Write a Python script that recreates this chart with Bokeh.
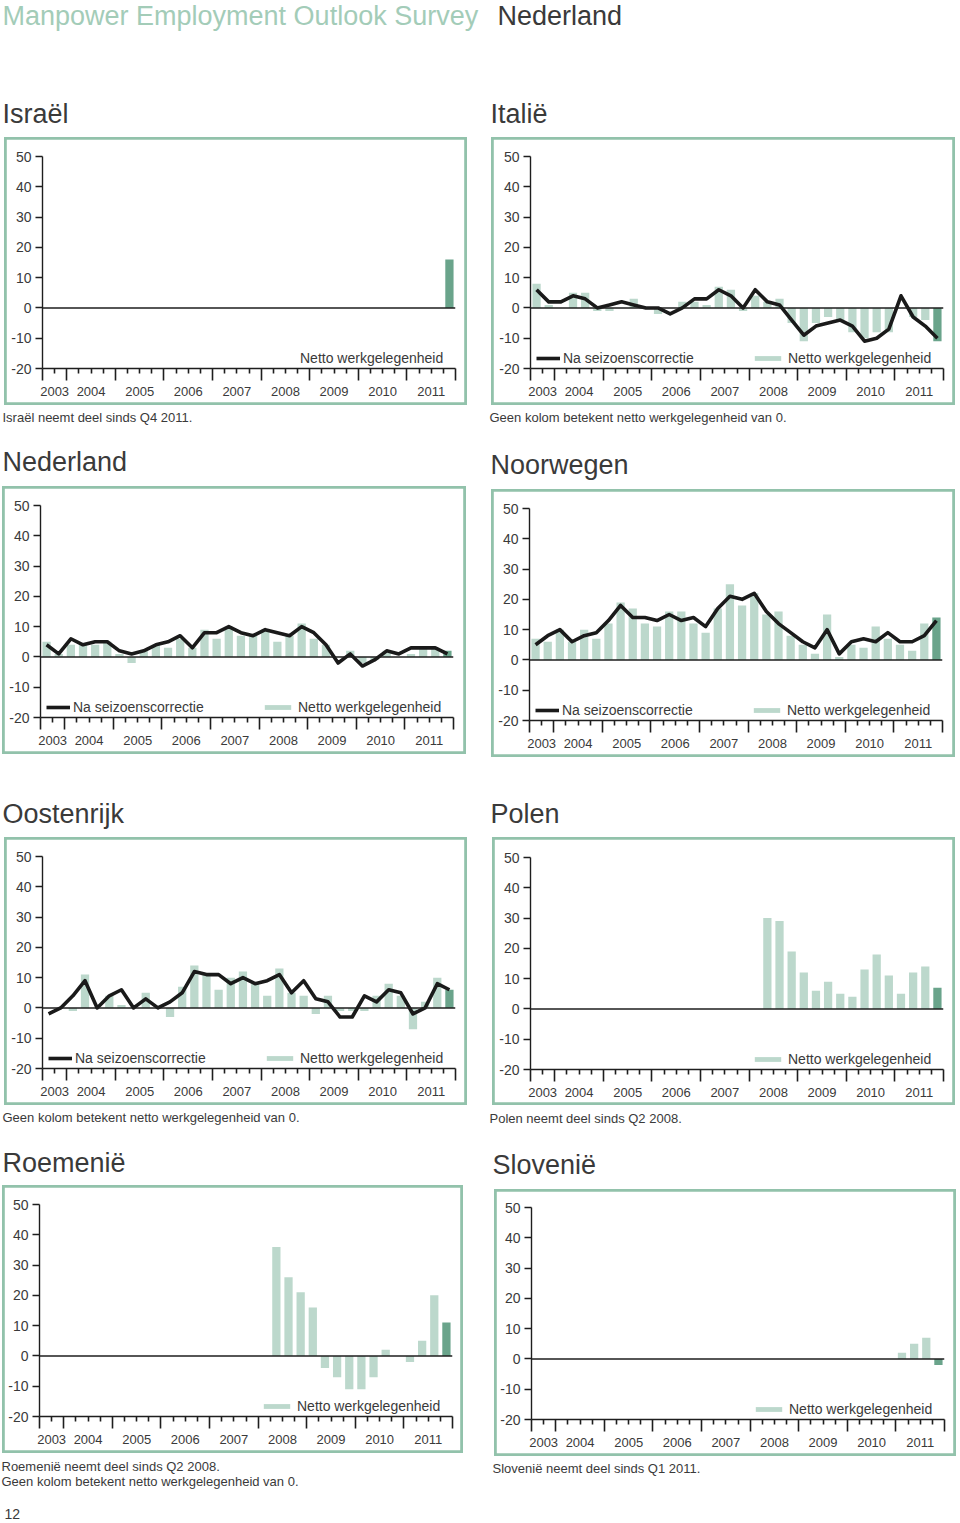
from bokeh.plotting import figure
from bokeh.models import (Range1d, FixedTicker, LinearAxis, Span, Label,
                          Legend, LegendItem)
from bokeh.layouts import column, row
from bokeh.embed import file_html
from bokeh.resources import INLINE

# ---------------- data ----------------
QUARTERS = ["Q3 2003", "Q4 2003",
            "Q1 2004", "Q2 2004", "Q3 2004", "Q4 2004",
            "Q1 2005", "Q2 2005", "Q3 2005", "Q4 2005",
            "Q1 2006", "Q2 2006", "Q3 2006", "Q4 2006",
            "Q1 2007", "Q2 2007", "Q3 2007", "Q4 2007",
            "Q1 2008", "Q2 2008", "Q3 2008", "Q4 2008",
            "Q1 2009", "Q2 2009", "Q3 2009", "Q4 2009",
            "Q1 2010", "Q2 2010", "Q3 2010", "Q4 2010",
            "Q1 2011", "Q2 2011", "Q3 2011", "Q4 2011"]
YEARS = ["2003", "2004", "2005", "2006", "2007", "2008", "2009", "2010", "2011"]
Y_TICKS = [-20, -10, 0, 10, 20, 30, 40, 50]
Y_TICK_LABELS = ["-20", "-10", "0", "10", "20", "30", "40", "50"]

ISRAEL_START = "Q4 2011"
ISRAEL_BARS = [16]

ITALIE_START = "Q3 2003"
ITALIE_BARS = [8, 1, 0, 5, 5, -1, -1, 0, 3, 0, -2, 0, 2, 2, 1, 7, 6, -1, 4, 2, 3, -5,
               -11, -5, -3, -4, -8, -10, -8, -8, 0, -3, -4, -11]
ITALIE_LINE = [6, 2, 2, 4, 3, 0, 1, 2, 1, 0, 0, -2, 0, 3, 3, 6, 4, 0, 6, 2, 1, -4,
               -9, -6, -5, -4, -6, -11, -10, -7, 4, -3, -6, -10]

NEDERLAND_START = "Q3 2003"
NEDERLAND_BARS = [5, 1, 4, 4, 4, 5, 1, -2, 2, 4, 3, 6, 3, 9, 6, 10, 7, 7, 9, 5, 7, 11,
                  6, 4, 0, 2, -2, -1, 2, 0, 1, 3, 3, 2]
NEDERLAND_LINE = [4, 1, 6, 4, 5, 5, 2, 1, 2, 4, 5, 7, 3, 8, 8, 10, 8, 7, 9, 8, 7, 10,
                  8, 4, -2, 1, -3, -1, 2, 1, 3, 3, 3, 1]

NOORWEGEN_START = "Q3 2003"
NOORWEGEN_BARS = [7, 6, 10, 6, 10, 7, 12, 19, 17, 12, 11, 16, 16, 12, 9, 17, 25, 18, 22,
                  15, 16, 8, 5, 2, 15, 1, 5, 4, 11, 7, 5, 3, 12, 14]
NOORWEGEN_LINE = [5, 8, 10, 6, 8, 9, 13, 18, 14, 14, 13, 15, 13, 14, 11, 17, 21, 20, 22,
                  16, 12, 9, 6, 4, 10, 2, 6, 7, 6, 9, 6, 6, 8, 13]

OOSTENRIJK_START = "Q3 2003"
OOSTENRIJK_BARS = [0, 0, -1, 11, 0, 4, 1, 0, 5, 0, -3, 7, 14, 11, 6, 10, 12, 8, 4, 13,
                   5, 4, -2, 4, -1, -1, -1, 4, 8, 4, -7, 2, 10, 6]
OOSTENRIJK_LINE = [-2, 0, 4, 9, 0, 4, 6, 0, 3, 0, 2, 5, 12, 11, 11, 8, 10, 8, 9, 11, 5,
                   9, 3, 2, -3, -3, 4, 2, 6, 5, -2, 0, 8, 6]

POLEN_START = "Q2 2008"
POLEN_BARS = [30, 29, 19, 12, 6, 9, 5, 4, 13, 18, 11, 5, 12, 14, 7]

ROEMENIE_START = "Q2 2008"
ROEMENIE_BARS = [36, 26, 21, 16, -4, -7, -11, -11, -7, 2, 0, -2, 5, 20, 11]

SLOVENIE_START = "Q1 2011"
SLOVENIE_BARS = [2, 5, 7, -2]

LINE_LABEL = "Na seizoenscorrectie"
BAR_LABEL = "Netto werkgelegenheid"
NOTE_ZERO = "Geen kolom betekent netto werkgelegenheid van 0."

# ---------------- style ----------------
FONT = "Liberation Sans"
TEXT = "#3a3a3a"
AXIS = "#1e1e1e"
FRAME = "#92c2ab"
BAR_LIGHT = "#bcd8cc"
BAR_DARK = "#6aa48b"
LINE = "#1a1a1a"
HEAD_GREEN = "#a3ccb8"

LW = 480      # left column width
RW = 478      # right column width
FW = 413      # frame width
FH = 212      # frame height

NQ = len(QUARTERS)
year_of = [q.split()[1] for q in QUARTERS]
BOUNDS = [i for i in range(NQ) if i == 0 or year_of[i] != year_of[i - 1]] + [NQ]
MINOR = [i for i in range(1, NQ) if i not in BOUNDS]
CENTERS = {}
for y in YEARS:
    idx = [i + 0.5 for i in range(NQ) if year_of[i] == y]
    CENTERS[sum(idx) / len(idx)] = y


def text_fig(w, h, texts):
    """A plain canvas holding texts; texts = (x, center_y_from_top, text, size, color)."""
    f = figure(width=w, height=h, x_range=Range1d(0, 1), y_range=Range1d(0, 1),
               output_backend="svg", toolbar_location=None, min_border=0,
               x_axis_location=None, y_axis_location=None, frame_align=False)
    f.grid.grid_line_color = None
    f.outline_line_color = None
    for (x, yc, t, size, color) in texts:
        f.add_layout(Label(x=x, y=h - yc, x_units="screen", y_units="screen", text=t,
                           text_font=FONT, text_font_size=size, text_color=color,
                           text_baseline="middle", text_align="left"))
    return f


def make_panel(name, bars, start, line, captions, W, H, bl, bt, box, title_y,
               title_x, cap_x, cap_ys, footer=None):
    x0, y0, x1, y1 = box
    cw, ch = x1 - x0, y1 - y0
    fl = bl - x0
    ft = bt - y0
    fr = cw - fl - FW
    fb = ch - ft - FH
    p = figure(width=cw, height=ch, x_range=Range1d(0, NQ), y_range=Range1d(-20, 50),
               output_backend="svg", toolbar_location=None,
               min_border_left=fl, min_border_right=fr, min_border_top=ft,
               min_border_bottom=fb, x_axis_location=None, y_axis_location=None,
               margin=(0, 0, 0, x0), frame_align=False,
               styles={"outline": "2.8px solid " + FRAME, "outline-offset": "-2.8px",
                       "box-shadow": "inset 0 0 0 2.8px " + FRAME,
                       "background-color": "white"})
    p.grid.grid_line_color = None
    p.outline_line_color = None
    p.border_fill_color = None
    p.background_fill_color = None

    yax = LinearAxis(ticker=FixedTicker(ticks=Y_TICKS, minor_ticks=[]),
                     major_label_overrides=dict(zip(Y_TICKS, Y_TICK_LABELS)),
                     axis_line_color=AXIS, axis_line_width=1.4,
                     major_tick_line_color=AXIS, major_tick_line_width=1.4,
                     major_tick_out=7, major_tick_in=0, minor_tick_line_color=None,
                     major_label_standoff=4, major_label_text_font=FONT,
                     major_label_text_font_size="14px", major_label_text_color=TEXT)
    p.add_layout(yax, "left")
    xa = LinearAxis(ticker=FixedTicker(ticks=BOUNDS, minor_ticks=MINOR),
                    axis_line_color=AXIS, axis_line_width=1.4,
                    major_tick_line_color=AXIS, major_tick_line_width=1.6,
                    major_tick_out=12, major_tick_in=0,
                    minor_tick_line_color=AXIS, minor_tick_line_width=1.6,
                    minor_tick_out=5, minor_tick_in=0,
                    major_label_text_font_size="1px", major_label_text_color=None,
                    major_label_standoff=0)
    p.add_layout(xa, "below")
    xb = LinearAxis(ticker=FixedTicker(ticks=list(CENTERS.keys()), minor_ticks=[]),
                    major_label_overrides=dict(CENTERS),
                    axis_line_color=None, major_tick_line_color=None,
                    minor_tick_line_color=None, major_tick_out=0, major_tick_in=0,
                    major_label_standoff=6, major_label_text_font=FONT,
                    major_label_text_font_size="13px", major_label_text_color=TEXT)
    p.add_layout(xb, "below")

    s = QUARTERS.index(start)
    xs = [s + i + 0.5 for i in range(len(bars))]
    lr_bar = p.vbar(x=xs[:-1], top=bars[:-1], bottom=0, width=0.68,
                    fill_color=BAR_LIGHT, line_color=None)
    p.vbar(x=xs[-1:], top=bars[-1:], bottom=0, width=0.68,
           fill_color=BAR_DARK, line_color=None)

    p.add_layout(Span(location=0, dimension="width", line_color=AXIS, line_width=1.4))

    lr_line = None
    if line is not None:
        lx = [s + i + 0.5 for i in range(len(line))]
        lr_line = p.line(x=lx, y=line, line_color=LINE, line_width=3.6,
                         line_join="round")

    common = dict(orientation="horizontal", padding=0, margin=0, spacing=0,
                  border_line_color=None, background_fill_alpha=0,
                  glyph_height=6, label_height=14, label_text_font=FONT,
                  label_text_font_size="14px", label_text_color=TEXT)
    if lr_line is not None:
        p.add_layout(Legend(items=[LegendItem(label=LINE_LABEL, renderers=[lr_line])],
                            location=(6, 2), glyph_width=24, label_standoff=3, **common))
    p.add_layout(Legend(items=[LegendItem(label=BAR_LABEL, renderers=[lr_bar])],
                        location=(221, 2), glyph_width=33, label_standoff=4, **common))

    title_f = text_fig(W, y0, [(title_x, title_y, name, "27px", TEXT)])
    cap_h = H - y1
    texts = [(cap_x, cy - y1, c, "13px", TEXT) for c, cy in zip(captions, cap_ys)]
    if footer is not None:
        texts.append((4, 376 - y1, footer, "14px", TEXT))
    cap_f = text_fig(W, cap_h, texts)
    return column(title_f, p, cap_f, spacing=0)


header = text_fig(LW + RW, 90,
                  [(2, 15, "Manpower Employment Outlook Survey", "27px", HEAD_GREEN),
                   (497, 15, "Nederland", "27px", TEXT)])

israel = make_panel("Israël", ISRAEL_BARS, ISRAEL_START, None,
                    ["Israël neemt deel sinds Q4 2011."], W=LW, H=347, bl=42, bt=66,
                    box=(4, 47, 467, 315), title_y=23, title_x=2, cap_x=2, cap_ys=[327])
italie = make_panel("Italië", ITALIE_BARS, ITALIE_START, ITALIE_LINE, [NOTE_ZERO],
                    W=RW, H=347, bl=50, bt=66, box=(11, 47, 475, 315), title_y=23,
                    title_x=10, cap_x=9, cap_ys=[327])

nederland = make_panel("Nederland", NEDERLAND_BARS, NEDERLAND_START, NEDERLAND_LINE, [],
                       W=LW, H=350, bl=40, bt=68, box=(2, 49, 466, 317), title_y=24,
                       title_x=2, cap_x=2, cap_ys=[])
noorwegen = make_panel("Noorwegen", NOORWEGEN_BARS, NOORWEGEN_START, NOORWEGEN_LINE, [],
                       W=RW, H=350, bl=49, bt=71, box=(11, 52, 475, 320), title_y=27,
                       title_x=10, cap_x=9, cap_ys=[])

oostenrijk = make_panel("Oostenrijk", OOSTENRIJK_BARS, OOSTENRIJK_START, OOSTENRIJK_LINE,
                        [NOTE_ZERO], W=LW, H=350, bl=42, bt=69, box=(4, 50, 467, 318),
                        title_y=26, title_x=2, cap_x=2, cap_ys=[330])
polen = make_panel("Polen", POLEN_BARS, POLEN_START, None,
                   ["Polen neemt deel sinds Q2 2008."], W=RW, H=350, bl=50, bt=70,
                   box=(12, 50, 475, 318), title_y=26, title_x=10, cap_x=9, cap_ys=[331])

roemenie = make_panel("Roemenië", ROEMENIE_BARS, ROEMENIE_START, None,
                      ["Roemenië neemt deel sinds Q2 2008.", NOTE_ZERO], W=LW, H=383,
                      bl=39, bt=67, box=(2, 48, 463, 316), title_y=25, title_x=2, cap_x=1,
                      cap_ys=[329, 344], footer="12")
slovenie = make_panel("Slovenië", SLOVENIE_BARS, SLOVENIE_START, None,
                      ["Slovenië neemt deel sinds Q1 2011."], W=RW, H=383, bl=51, bt=70,
                      box=(14, 52, 476, 319), title_y=27, title_x=12, cap_x=12,
                      cap_ys=[331])

layout = column(header,
                row(israel, italie, spacing=0),
                row(nederland, noorwegen, spacing=0),
                row(oostenrijk, polen, spacing=0),
                row(roemenie, slovenie, spacing=0),
                spacing=0)

open("out.html", "w").write(file_html(layout, INLINE))
